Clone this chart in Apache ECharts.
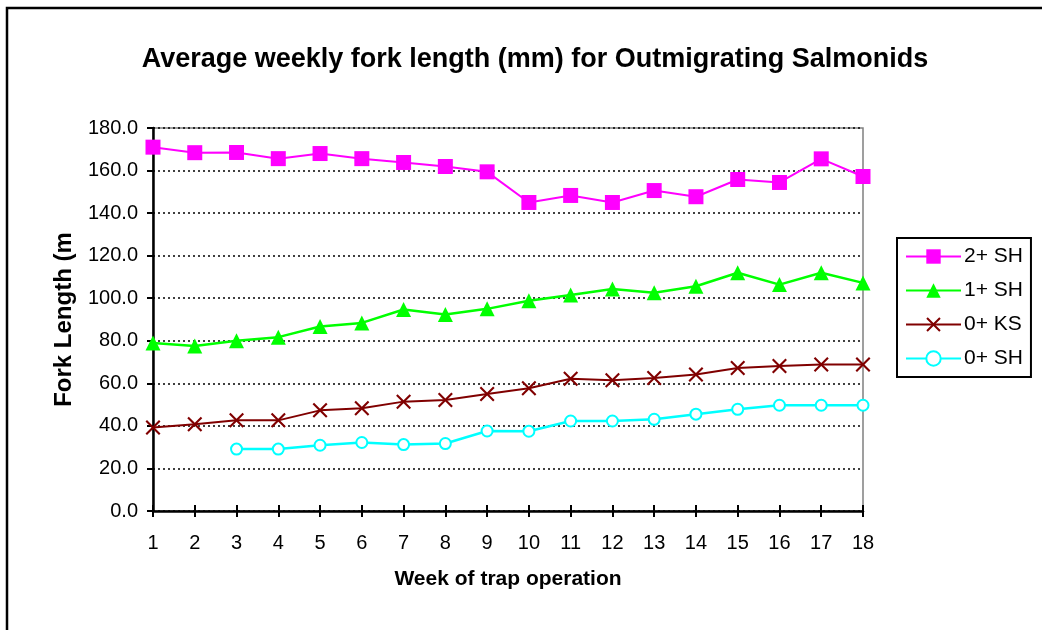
<!DOCTYPE html>
<html>
<head>
<meta charset="utf-8">
<script src="https://cdn.jsdelivr.net/npm/echarts@6/dist/echarts.min.js"></script>
<style>
  html, body { margin: 0; padding: 0; background: #fff; }
  #chart { width: 1042px; height: 630px; }
</style>
</head>
<body>
<div id="chart"></div>
<script>
// weeks of trap operation
const weeks = ['1', '2', '3', '4', '5', '6', '7', '8', '9', '10', '11', '12', '13', '14', '15', '16', '17', '18'];

// average fork length (mm) per week
const sh2 = [171.0, 168.4, 168.5, 165.6, 168.0, 165.6, 163.8, 161.9, 159.4, 145.0, 148.3, 145.0, 150.6, 147.7, 155.8, 154.4, 165.5, 157.2];
const sh1 = [79.0, 77.5, 80.0, 81.7, 86.7, 88.4, 94.7, 92.3, 95.0, 98.8, 101.5, 104.3, 102.6, 105.6, 112.0, 106.4, 112.0, 107.2];
const ks0 = [39.2, 40.8, 42.6, 42.6, 47.3, 48.3, 51.4, 52.2, 55.0, 57.7, 62.2, 61.4, 62.5, 64.2, 67.2, 68.1, 68.9, 68.9];
const sh0 = [null, null, 29.1, 29.1, 30.9, 32.2, 31.2, 31.7, 37.6, 37.5, 42.3, 42.3, 43.1, 45.5, 47.8, 49.7, 49.7, 49.7];

const yTicks = { min: 0, max: 180, interval: 20 };

const crossPath = 'path://M0,1 L1,0 L5,4 L9,0 L10,1 L6,5 L10,9 L9,10 L5,6 L1,10 L0,9 L4,5 Z';

const chart = echarts.init(document.getElementById('chart'), null, { renderer: 'canvas' });

chart.setOption({
  backgroundColor: '#fff',
  animation: false,
  textStyle: { fontFamily: 'Liberation Sans, Arial, sans-serif' },
  title: {
    text: 'Average weekly fork length (mm) for Outmigrating Salmonids',
    left: 530,
    textAlign: 'center',
    top: 41,
    textStyle: { fontSize: 27, fontWeight: 'bold', color: '#000' }
  },
  graphic: [{
    type: 'rect',
    shape: { x: 7, y: 8, width: 1100, height: 700 },
    style: { fill: null, stroke: '#000', lineWidth: 2.5 },
    silent: true
  }],
  legend: {
    orient: 'vertical',
    left: 897,
    top: 238,
    itemWidth: 55,
    itemHeight: 18,
    itemGap: 13,
    padding: [8, 8, 8, 8],
    borderColor: '#000',
    borderWidth: 2,
    textStyle: { fontSize: 21, color: '#000', padding: [0, 0, 0, -2] },
    data: ['2+ SH', '1+ SH', '0+ KS', '0+ SH']
  },
  grid: { left: 153, top: 128, width: 710, height: 383, show: true, borderColor: '#808080', borderWidth: 1.5 },
  xAxis: [{
    type: 'category',
    data: weeks,
    boundaryGap: false,
    name: 'Week of trap operation',
    nameLocation: 'middle',
    nameGap: 58,
    nameTextStyle: { fontSize: 21, fontWeight: 'bold', color: '#000' },
    axisLine: { lineStyle: { color: '#000', width: 2.5 } },
    axisTick: { alignWithLabel: true, length: 6, lineStyle: { color: '#000', width: 2 } },
    axisLabel: { fontSize: 20, color: '#000', margin: 22 },
    splitLine: { show: false }
  }, {
    type: 'category',
    data: weeks,
    position: 'bottom',
    boundaryGap: false,
    axisLine: { show: false },
    axisTick: { inside: true, length: 6, lineStyle: { color: '#000', width: 2 } },
    axisLabel: { show: false },
    splitLine: { show: false }
  }],
  yAxis: {
    type: 'value',
    min: yTicks.min,
    max: yTicks.max,
    interval: yTicks.interval,
    name: 'Fork Length (mm)',
    nameLocation: 'middle',
    nameGap: 77,
    nameTruncate: { maxWidth: 186, ellipsis: '' },
    nameTextStyle: { fontSize: 24, fontWeight: 'bold', color: '#000' },
    axisLine: { show: true, lineStyle: { color: '#000', width: 2.5 } },
    axisTick: { show: true, length: 6, lineStyle: { color: '#000', width: 2 } },
    axisLabel: { fontSize: 20, color: '#000', margin: 15, formatter: v => v.toFixed(1) },
    splitLine: { show: true, lineStyle: { color: '#000', type: [2, 3], width: 1.5 } }
  },
  series: [{
    name: '2+ SH',
    type: 'line',
    data: sh2,
    symbol: 'rect',
    symbolSize: 15,
    lineStyle: { color: '#FF00FF', width: 2 },
    itemStyle: { color: '#FF00FF' }
  }, {
    name: '1+ SH',
    type: 'line',
    data: sh1,
    symbol: 'triangle',
    symbolSize: 15,
    lineStyle: { color: '#00FF00', width: 2.5 },
    itemStyle: { color: '#00FF00' }
  }, {
    name: '0+ KS',
    type: 'line',
    data: ks0,
    symbol: crossPath,
    symbolSize: 15,
    lineStyle: { color: '#800000', width: 2 },
    itemStyle: { color: '#800000' }
  }, {
    name: '0+ SH',
    type: 'line',
    data: sh0,
    symbol: 'emptyCircle',
    symbolSize: 11,
    lineStyle: { color: '#00FFFF', width: 2.5 },
    itemStyle: { color: '#00FFFF', borderColor: '#00FFFF', borderWidth: 2 }
  }]
});
</script>
</body>
</html>
